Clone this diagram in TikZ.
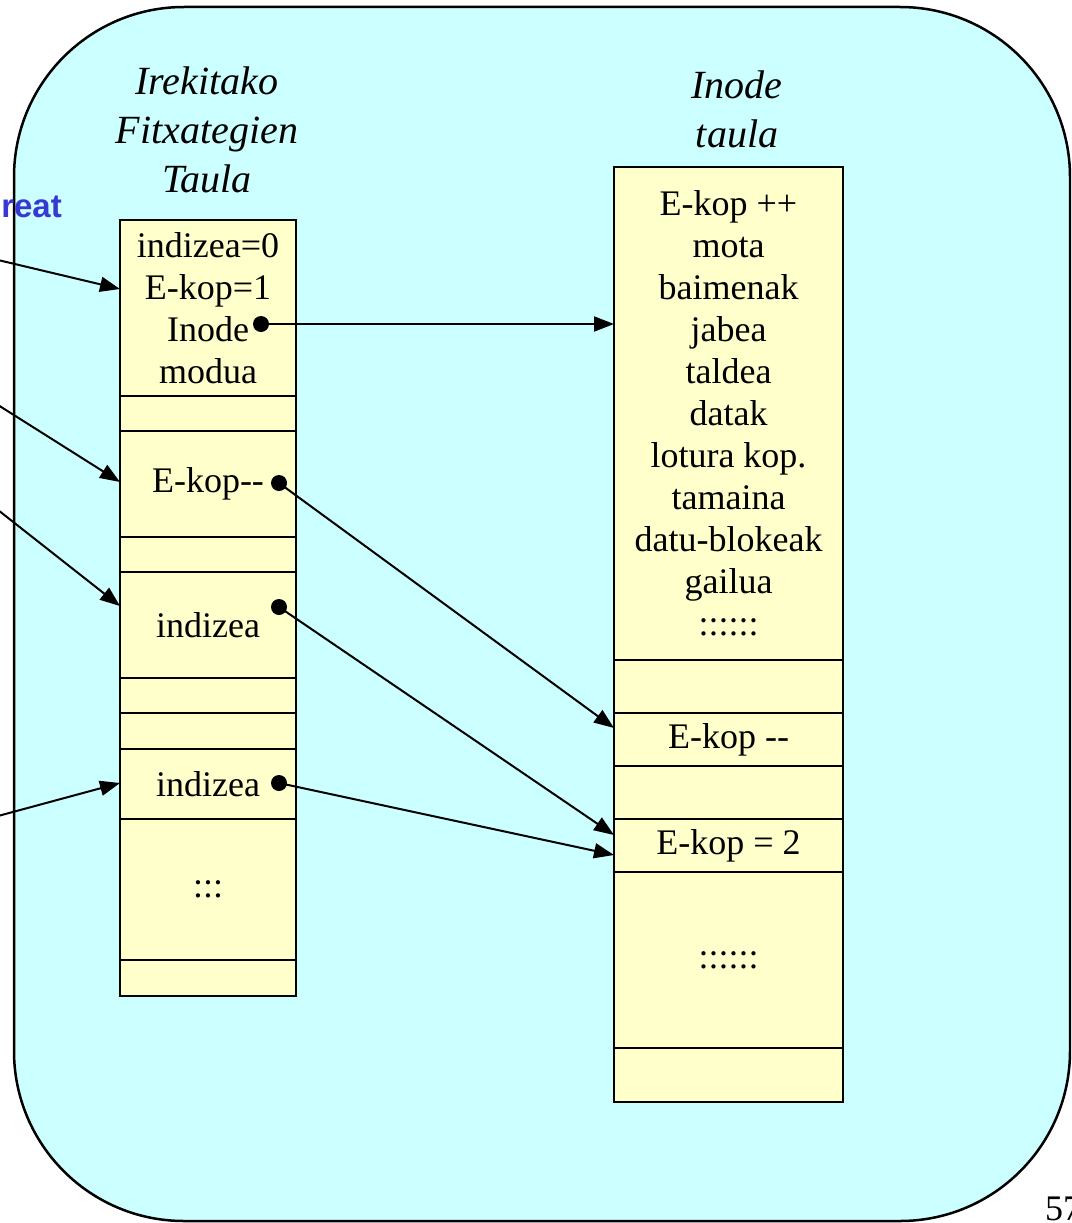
\documentclass[tikz,border=0pt]{standalone}
\usepackage{fontspec}
\setmainfont{Liberation Serif}
\newfontfamily\bluefont{Liberation Sans}
\usetikzlibrary{arrows.meta}
\definecolor{bgcyan}{RGB}{204,255,255}
\definecolor{cellyellow}{RGB}{255,255,204}
\definecolor{labelblue}{RGB}{56,56,210}
\begin{document}
\begin{tikzpicture}[x=1pt,y=-1pt,
  cell/.style={draw, line width=2pt, fill=cellyellow, inner sep=0pt, anchor=north,
    align=center, font=\fontsize{36}{42}\selectfont},
  lcell/.style={cell, minimum width=176pt},
  rcell/.style={cell, minimum width=229pt},
  title/.style={align=center, font=\fontsize{40}{49}\selectfont\itshape},
  dot/.style={circle, fill=black, inner sep=0pt, minimum size=16pt},
  conn/.style={line width=2pt, -{Triangle[length=20pt,width=15pt]}}]
\useasboundingbox (0,0) rectangle (1071,1223);
\clip (0,0) rectangle (1071,1223);
% background panel
\draw[line width=2.5pt, fill=bgcyan, rounded corners=170pt] (14,7) rectangle (1070,1221);
% titles
\node[title] (t1) at (207,130) {Irekitako\\Fitxategien\\Taula};
\node[title] (t2) at (737,109) {Inode\\taula};
% left table
\node[lcell, minimum height=176pt] (L1) at (208,219) {indizea=0\\E-kop=1\\Inode\hspace*{0pt}\\modua};
\node[lcell, minimum height=35pt]  (L2) at (208,395) {};
\node[lcell, minimum height=106pt] (L3) at (208,430) {E-kop{-}{-}};
\node[lcell, minimum height=35pt]  (L4) at (208,536) {};
\node[lcell, minimum height=106pt] (L5) at (208,571) {indizea};
\node[lcell, minimum height=35pt]  (L6) at (208,677) {};
\node[lcell, minimum height=36pt]  (L7) at (208,712) {};
\node[lcell, minimum height=70pt]  (L8) at (208,748) {indizea};
\node[lcell, minimum height=141pt] (L9) at (208,818) {:::};
\node[lcell, minimum height=36pt]  (L10) at (208,959) {};
% right table
\node[rcell, minimum height=493pt] (R1) at (728.5,166) {E-kop ++\\mota\\baimenak\\jabea\\taldea\\datak\\lotura kop.\\tamaina\\datu-blokeak\\gailua\\::::::};
\node[rcell, minimum height=53pt]  (R2) at (728.5,659) {};
\node[rcell, minimum height=53pt]  (R3) at (728.5,712) {E-kop {-}{-}};
\node[rcell, minimum height=53pt]  (R4) at (728.5,765) {};
\node[rcell, minimum height=53pt]  (R5) at (728.5,818) {E-kop = 2};
\node[rcell, minimum height=176pt] (R6) at (728.5,871) {::::::};
\node[rcell, minimum height=54pt]  (R7) at (728.5,1047) {};
% side labels
\node[anchor=base east, inner sep=0pt, text=labelblue, font=\bluefont\bfseries\fontsize{33}{36}\selectfont] (creat) at (62,217) {reat};
\node[anchor=base west, inner sep=0pt, font=\fontsize{36}{42}\selectfont] (pnum) at (1045,1220) {57};
% pointer dots
\node[dot] (d1) at (261,324) {};
\node[dot] (d2) at (279,483) {};
\node[dot] (d3) at (279,607) {};
\node[dot] (d4) at (279,783) {};
% incoming arrow sources (off the left edge) and targets
\coordinate (s1) at (-2,260);
\coordinate (s2) at (-2,405);
\coordinate (s3) at (-2,510);
\coordinate (s4) at (-2,816);
\coordinate (a1) at (120,289);
\coordinate (a2) at (120,482);
\coordinate (a3) at (120,606);
\coordinate (a4) at (120,783);
\coordinate (b1) at (614,324);
\coordinate (b2) at (614,728);
\coordinate (b3) at (614,835);
\coordinate (b4) at (614,855);
\draw[conn] (s1) -- (a1);
\draw[conn] (s2) -- (a2);
\draw[conn] (s3) -- (a3);
\draw[conn] (s4) -- (a4);
\draw[conn] (d1.center) -- (b1);
\draw[conn] (d2.center) -- (b2);
\draw[conn] (d3.center) -- (b3);
\draw[conn] (d4.center) -- (b4);
\end{tikzpicture}
\end{document}
